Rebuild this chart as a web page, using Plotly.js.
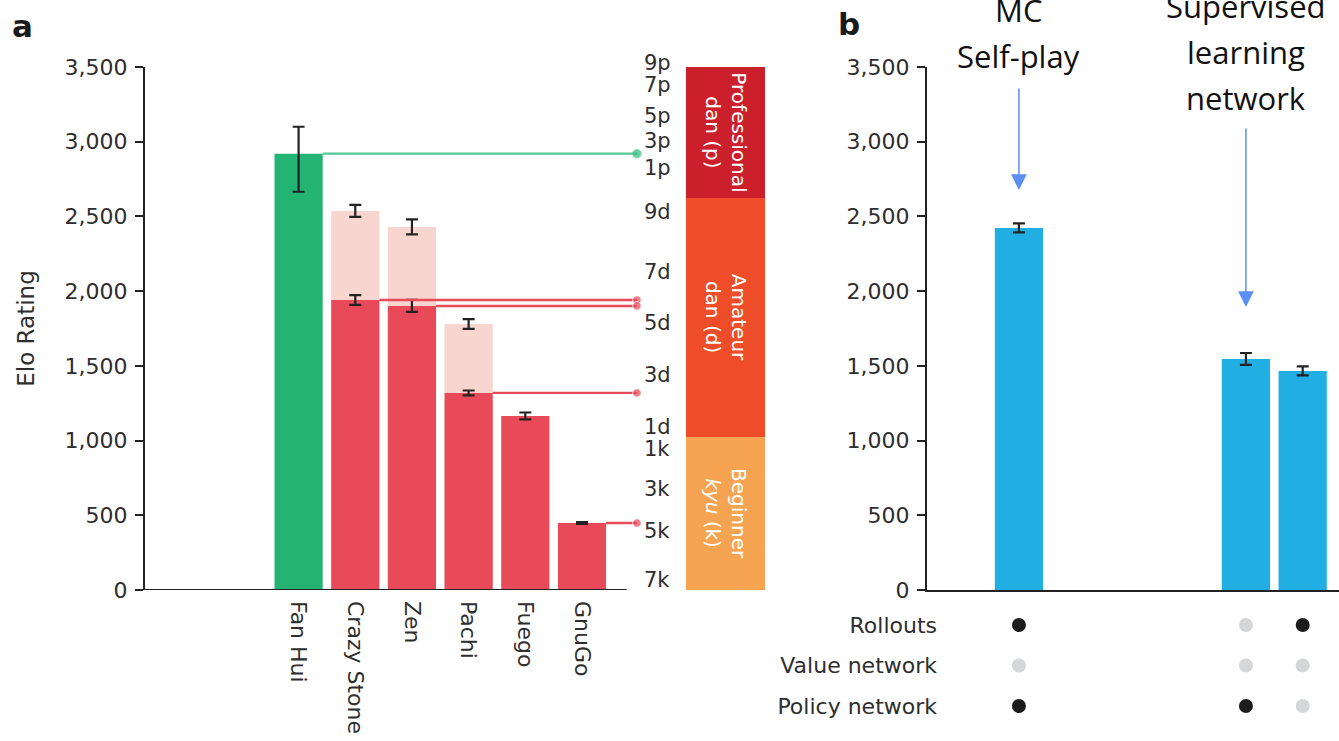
<!DOCTYPE html>
<html>
<head>
<meta charset="utf-8">
<script src="https://cdn.plot.ly/plotly-3.0.1.min.js"></script>
<style>
  html, body { margin: 0; padding: 0; background: #fff; }
  #chart { width: 1339px; height: 741px; }
</style>
</head>
<body>
<div id="chart"></div>
<script>
// ---- Panel a: Elo ratings of Fan Hui and the Go programs ----
const players = ['Fan Hui', 'Crazy Stone', 'Zen', 'Pachi', 'Fuego', 'GnuGo'];
const fanHuiElo = [2920];
const fanHuiErrUp = [180];
const fanHuiErrDown = [255];
// programs given four handicap stones (pale bars)
const handicapIdx = [1, 2, 3];
const handicapElo = [2537, 2430, 1780];
const handicapErr = [40, 50, 33];
// programs playing even games (solid bars)
const programIdx = [1, 2, 3, 4, 5];
const programElo = [1941, 1901, 1319, 1165, 448];
const programErr = [33, 40, 16, 23, 6];
// which bars are tied across to the rank scale
const linkedIdx = [1, 2, 3, 5];

// rank scale on the right of panel a
const rankLabels = ['9p', '7p', '5p', '3p', '1p', '9d', '7d', '5d', '3d', '1d', '1k', '3k', '5k', '7k'];
const rankElo = [3527, 3380, 3173, 3005, 2825, 2530, 2129, 1787, 1439, 1091, 944, 676, 395, 67];
const bandBounds = [0, 1024, 2624, 3500];
const bandNames = ['Beginner<br><i>kyu</i> (k)', 'Amateur<br>dan (d)', 'Professional<br>dan (p)'];
const bandColors = ['#F7A452', '#EF4D2A', '#CB1F2B'];

// ---- Panel b: AlphaGo configurations ----
const configIdx = [0, 4, 5];
const configElo = [2423, 1546, 1466];
const configErr = [30, 40, 30];
const componentNames = ['Rollouts', 'Value network', 'Policy network'];
const rolloutsOn = [1, 0, 1];
const valueOn = [0, 0, 0];
const policyOn = [1, 1, 0];
const mcLines = ['MC', 'Self-play'];
const slLines = ['Supervised', 'learning', 'network'];

// ---- styling ----
const W = 1339, H = 741;
const GREEN = '#23B473', RED = '#E84A5A', PINK = '#F8D5CF', BLUE = '#21AFE3';
const INK = '#222222', TXT = '#2e2e2e';
const ON = '#1c1c1c', OFF = '#d5d6d8';
const FONT = 'DejaVu Sans, Arial, sans-serif';
const BARW = 0.85;
const LINK_END = 5.97;          // x where the rank connector dots sit
const ELO_MAX = 3500;
const px = v => v / W;
const py = v => 1 - v / H;
const yDom = [py(590), py(67)];
// Elo value -> paper fraction on the shared Elo scale
const eloToPaper = v => yDom[0] + (v / ELO_MAX) * (yDom[1] - yDom[0]);

const errStyle = (arr, minus) => ({
  type: 'data', symmetric: minus === undefined, array: arr,
  arrayminus: minus, color: INK, thickness: 2.2, width: 6
});

const traces = [];

// pale handicap bars behind
traces.push({
  type: 'bar', x: handicapIdx, y: handicapElo, width: BARW,
  marker: { color: PINK }, error_y: errStyle(handicapErr),
  xaxis: 'x', yaxis: 'y', hoverinfo: 'skip'
});
// Fan Hui
traces.push({
  type: 'bar', x: [0], y: fanHuiElo, width: BARW,
  marker: { color: GREEN }, error_y: errStyle(fanHuiErrUp, fanHuiErrDown),
  xaxis: 'x', yaxis: 'y', hoverinfo: 'skip'
});
// programs
traces.push({
  type: 'bar', x: programIdx, y: programElo, width: BARW,
  marker: { color: RED }, error_y: errStyle(programErr),
  xaxis: 'x', yaxis: 'y', hoverinfo: 'skip'
});

// connectors from the bar tops to the rank scale
function connector(i, v, color, lineColor) {
  traces.push({
    type: 'scatter', mode: 'lines+markers',
    x: [i + BARW / 2, LINK_END], y: [v, v],
    line: { color: lineColor, width: 2.4 },
    marker: { size: [0, 8.5], color: color },
    xaxis: 'x', yaxis: 'y', hoverinfo: 'skip', cliponaxis: false
  });
}
connector(0, fanHuiElo[0], '#2FBB7C', '#55C796');
linkedIdx.forEach(i => connector(i, programElo[programIdx.indexOf(i)], RED, RED));

// rank bands
traces.push({
  type: 'bar', x: [0, 0, 0],
  base: bandBounds.slice(0, 3),
  y: bandBounds.slice(1).map((b, k) => b - bandBounds[k]),
  width: 1,
  marker: { color: bandColors, line: { width: 0 } },
  text: bandNames, textposition: 'inside', insidetextanchor: 'middle',
  textangle: 90, textfont: { family: FONT, size: 20, color: '#ffffff' },
  constraintext: 'none',
  xaxis: 'x3', yaxis: 'y', hoverinfo: 'skip'
});

// panel b bars
traces.push({
  type: 'bar', x: configIdx, y: configElo, width: BARW,
  marker: { color: BLUE }, error_y: errStyle(configErr),
  xaxis: 'x2', yaxis: 'y2', hoverinfo: 'skip'
});

// component dots under panel b
const rows = [rolloutsOn, valueOn, policyOn];
const dotX = [], dotY = [], dotC = [];
rows.forEach((flags, r) => {
  flags.forEach((f, c) => {
    dotX.push(configIdx[c]);
    dotY.push(2 - r);
    dotC.push(f ? ON : OFF);
  });
});
traces.push({
  type: 'scatter', mode: 'markers', x: dotX, y: dotY,
  marker: { size: 14, color: dotC },
  xaxis: 'x2', yaxis: 'y4', hoverinfo: 'skip', cliponaxis: false
});

// ---- layout ----
const eloTicks = [0, 500, 1000, 1500, 2000, 2500, 3000, 3500];
const yStyle = {
  domain: yDom, range: [0, ELO_MAX], tickvals: eloTicks, tickformat: ',d',
  ticks: 'outside', ticklen: 8, tickwidth: 2, tickcolor: INK,
  showline: true, linewidth: 2, linecolor: INK,
  showgrid: false, zeroline: false, ticklabelstandoff: 3,
  tickfont: { family: FONT, size: 22, color: TXT }
};

const annotations = [];
annotations.push({ text: '<b>a</b>', x: px(10), y: py(6), xref: 'paper', yref: 'paper',
  xanchor: 'left', yanchor: 'top', showarrow: false,
  font: { family: 'DejaVu Sans, Arial', size: 31, color: '#1a1a1a' } });
annotations.push({ text: '<b>b</b>', x: px(836), y: py(4), xref: 'paper', yref: 'paper',
  xanchor: 'left', yanchor: 'top', showarrow: false,
  font: { family: 'DejaVu Sans, Arial', size: 31, color: '#1a1a1a' } });

rankLabels.forEach((t, k) => {
  annotations.push({ text: t, x: px(642), y: eloToPaper(rankElo[k]), xref: 'paper', yref: 'paper',
    xanchor: 'left', yanchor: 'middle', showarrow: false,
    font: { family: FONT, size: 21, color: TXT } });
});

// headings above panel b with arrows to their bars
const HEAD_FONT = { family: 'Open Sans, Lato, sans-serif', size: 31, color: '#111111' };
const LINE_GAP = 46;
mcLines.forEach((t, k) => {
  annotations.push({ text: t, x: configIdx[0], xref: 'x2', y: py(10 + k * LINE_GAP), yref: 'paper',
    xanchor: 'center', yanchor: 'middle', showarrow: false, font: HEAD_FONT });
});
slLines.forEach((t, k) => {
  annotations.push({ text: t, x: configIdx[1], xref: 'x2', y: py(6 + k * LINE_GAP), yref: 'paper',
    xanchor: 'center', yanchor: 'middle', showarrow: false, font: HEAD_FONT });
});
const ARROW = '#5B8FF4';
annotations.push({ text: '', x: configIdx[0], xref: 'x2', y: py(190), yref: 'paper',
  ax: 0, ay: -103, showarrow: true, arrowhead: 2, arrowsize: 2.1, arrowwidth: 1.5,
  arrowcolor: ARROW, standoff: 0 });
annotations.push({ text: '', x: configIdx[1], xref: 'x2', y: py(307), yref: 'paper',
  ax: 0, ay: -180, showarrow: true, arrowhead: 2, arrowsize: 2.1, arrowwidth: 1.5,
  arrowcolor: ARROW, standoff: 0 });

const layout = {
  width: W, height: H,
  margin: { l: 0, r: 0, t: 0, b: 0 },
  paper_bgcolor: '#ffffff', plot_bgcolor: 'rgba(0,0,0,0)',
  showlegend: false, barmode: 'overlay',
  font: { family: FONT, color: TXT },
  xaxis: {
    domain: [px(145), px(641.5)], range: [-2.71, 6.05],
    tickvals: players.map((_, i) => i), ticktext: players, tickangle: 90,
    ticks: '', showline: false, showgrid: false, zeroline: false,
    ticklabelstandoff: 10,
    tickfont: { family: FONT, size: 22, color: TXT }, anchor: 'y'
  },
  yaxis: Object.assign({}, yStyle, {
    anchor: 'x',
    title: { text: 'Elo Rating', font: { family: FONT, size: 23, color: TXT }, standoff: 24 }
  }),
  xaxis2: {
    domain: [px(927), 1], range: [-1.62, 5.64],
    showticklabels: false, ticks: '', showgrid: false, zeroline: false,
    showline: true, linewidth: 2, linecolor: INK, anchor: 'y2'
  },
  yaxis2: Object.assign({}, yStyle, { anchor: 'x2' }),
  xaxis3: {
    domain: [px(686), px(765)], range: [-0.5, 0.5], visible: false, anchor: 'y'
  },
  yaxis4: {
    domain: [py(726.25), py(604.75)], range: [-0.5, 2.5],
    tickvals: [2, 1, 0], ticktext: componentNames,
    anchor: 'free', position: px(937), side: 'left',
    showline: false, ticks: '', showgrid: false, zeroline: false,
    tickfont: { family: FONT, size: 22, color: TXT }
  },
  shapes: [{
    type: 'line', xref: 'x', yref: 'y', x0: -2.71, x1: 5.79, y0: 0, y1: 0,
    line: { color: INK, width: 2 }
  }],
  annotations: annotations
};

Plotly.newPlot('chart', traces, layout, { displayModeBar: false, staticPlot: true });
</script>
</body>
</html>
